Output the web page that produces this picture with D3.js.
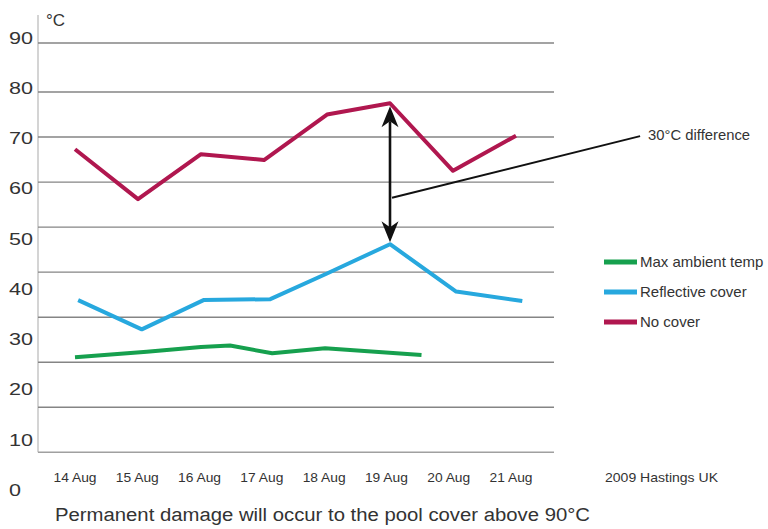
<!DOCTYPE html>
<html>
<head>
<meta charset="utf-8">
<script src="https://cdn.jsdelivr.net/npm/d3@7"></script>
<style>
  html, body { margin: 0; padding: 0; background: #fff; }
  svg { display: block; font-family: "Liberation Sans", Arial, Helvetica, sans-serif; }
</style>
</head>
<body>
<svg id="chart" width="768" height="529"></svg>
<script>
// ---- Data ----
const dayLabels = ["14 Aug", "15 Aug", "16 Aug", "17 Aug", "18 Aug", "19 Aug", "20 Aug", "21 Aug"];
const labelDays = [14, 15, 16, 17, 18, 19, 20, 21];
const yTickValues = [0, 10, 20, 30, 40, 50, 60, 70, 80, 90];

const noCoverDays = [14, 15, 16, 17, 18, 19, 20, 21];
const noCoverTemps = [67.3, 56.2, 66.2, 64.9, 75.0, 77.5, 62.5, 70.3];

const reflectiveDays = [14.05, 15.06, 16.04, 17.1, 18.0, 19.0, 20.05, 21.1];
const reflectiveTemps = [33.8, 27.3, 33.8, 34.0, 39.7, 46.2, 35.7, 33.6];

const ambientDays = [14.0, 15.14, 16.0, 16.46, 17.13, 17.97, 19.5];
const ambientTemps = [21.1, 22.3, 23.4, 23.7, 22.0, 23.1, 21.6];

const legendNames = ["Max ambient temp", "Reflective cover", "No cover"];
const legendColors = ["#16a04e", "#27a8de", "#b0174f"];

const differenceLabel = "30°C difference";
const differenceDay = 19;
const pointerFrom = [19, 56.5];
const pointerTo = [22.97, 70.2];

const unitLabel = "°C";
const sourceLabel = "2009 Hastings UK";
const footnote = "Permanent damage will occur to the pool cover above 90°C";

// ---- Scales ----
const svg = d3.select("#chart");
const x = d3.scaleLinear().domain([14, 21]).range([75, 516]);
const xLab = d3.scaleLinear().domain([14, 21]).range([75, 511]);
const y = d3.scaleLinear().domain([0, 80, 90]).range([452.3, 92, 43]);
const yLab = d3.scaleLinear().domain([0, 90]).range([490, 38]);

const plotLeft = 38, plotRight = 554;

// vertical axis line
svg.append("line")
  .attr("x1", plotLeft).attr("x2", plotLeft)
  .attr("y1", 15).attr("y2", y(0))
  .attr("stroke", "#b8b8b8").attr("stroke-width", 1.2);

// gridlines
svg.append("g").selectAll("line")
  .data(yTickValues)
  .join("line")
  .attr("x1", plotLeft).attr("x2", plotRight)
  .attr("y1", d => y(d)).attr("y2", d => y(d))
  .attr("stroke", d => d === 0 ? "#a0a0a0" : "#858585")
  .attr("stroke-width", 1.4);

// y labels (offset from gridlines as in the reference)
svg.append("g").selectAll("text")
  .data(yTickValues)
  .join("text")
  .attr("x", 9)
  .attr("y", d => yLab(d))
  .attr("dy", "0.36em")
  .attr("font-size", 16)
  .attr("fill", "#333")
  .attr("textLength", d => String(d).length * 12)
  .attr("lengthAdjust", "spacingAndGlyphs")
  .text(d => d);

svg.append("text")
  .attr("x", 46).attr("y", 20).attr("dy", "0.36em")
  .attr("font-size", 17).attr("fill", "#333")
  .text(unitLabel);

// x labels
svg.append("g").selectAll("text")
  .data(dayLabels)
  .join("text")
  .attr("x", (d, i) => xLab(labelDays[i]))
  .attr("y", 477).attr("dy", "0.36em")
  .attr("text-anchor", "middle")
  .attr("font-size", 13).attr("fill", "#333")
  .attr("textLength", 43).attr("lengthAdjust", "spacingAndGlyphs")
  .text(d => d);

svg.append("text")
  .attr("x", 605).attr("y", 477).attr("dy", "0.36em")
  .attr("font-size", 13).attr("fill", "#333")
  .attr("textLength", 113).attr("lengthAdjust", "spacingAndGlyphs")
  .text(sourceLabel);

svg.append("text")
  .attr("x", 55).attr("y", 515).attr("dy", "0.36em")
  .attr("font-size", 18).attr("fill", "#333")
  .attr("textLength", 535).attr("lengthAdjust", "spacingAndGlyphs")
  .text(footnote);

// ---- Lines ----
const line = d3.line().x(d => x(d[0])).y(d => y(d[1]));
const series = [
  { days: ambientDays, temps: ambientTemps, color: legendColors[0] },
  { days: reflectiveDays, temps: reflectiveTemps, color: legendColors[1] },
  { days: noCoverDays, temps: noCoverTemps, color: legendColors[2] }
];
svg.append("g").selectAll("path")
  .data(series)
  .join("path")
  .attr("d", s => line(s.days.map((d, i) => [d, s.temps[i]])))
  .attr("fill", "none")
  .attr("stroke", s => s.color)
  .attr("stroke-width", 4)
  .attr("stroke-linejoin", "round")
  .attr("stroke-linecap", "butt");

// ---- Double arrow showing the difference ----
const ax = x(differenceDay);
const iTop = noCoverDays.indexOf(differenceDay);
const iBot = reflectiveDays.findIndex(d => Math.abs(d - differenceDay) < 0.1);
const yTop = y(noCoverTemps[iTop]) + 3;
const yBot = y(reflectiveTemps[iBot]) - 2;
const headL = 21, headW = 8.5, notch = 15;
svg.append("line")
  .attr("x1", ax).attr("x2", ax)
  .attr("y1", yTop + notch).attr("y2", yBot - notch)
  .attr("stroke", "#111").attr("stroke-width", 2.6);
svg.append("path")
  .attr("d", `M${ax},${yTop} L${ax - headW},${yTop + headL} L${ax},${yTop + notch} L${ax + headW},${yTop + headL} Z`)
  .attr("fill", "#111");
svg.append("path")
  .attr("d", `M${ax},${yBot} L${ax - headW},${yBot - headL} L${ax},${yBot - notch} L${ax + headW},${yBot - headL} Z`)
  .attr("fill", "#111");

// pointer line to the annotation
svg.append("line")
  .attr("x1", x(pointerFrom[0]) + 2).attr("y1", y(pointerFrom[1]))
  .attr("x2", x(pointerTo[0])).attr("y2", y(pointerTo[1]))
  .attr("stroke", "#111").attr("stroke-width", 2);
svg.append("text")
  .attr("x", x(pointerTo[0]) + 8).attr("y", y(pointerTo[1]) - 1).attr("dy", "0.36em")
  .attr("font-size", 14).attr("fill", "#333")
  .attr("textLength", 102).attr("lengthAdjust", "spacingAndGlyphs")
  .text(differenceLabel);

// ---- Legend ----
const legend = svg.append("g").selectAll("g")
  .data(legendNames)
  .join("g")
  .attr("transform", (d, i) => `translate(604, ${262 + i * 30})`);
legend.append("rect")
  .attr("x", 0).attr("y", -2.5).attr("width", 33).attr("height", 5)
  .attr("fill", (d, i) => legendColors[i]);
legend.append("text")
  .attr("x", 36).attr("y", 0).attr("dy", "0.36em")
  .attr("font-size", 15).attr("fill", "#333")
  .text(d => d);
</script>
</body>
</html>
